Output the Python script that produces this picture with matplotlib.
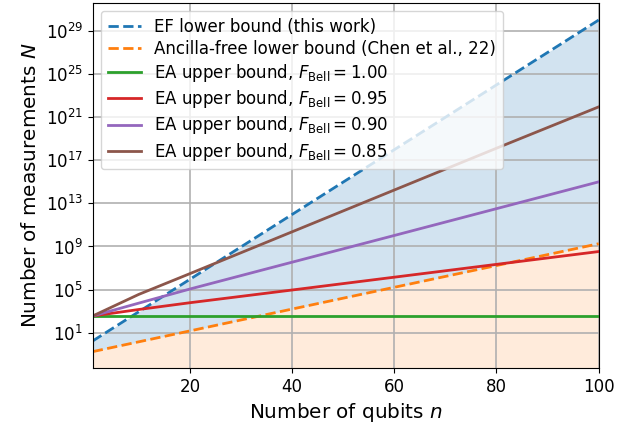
import matplotlib
matplotlib.use("Agg")
import matplotlib.pyplot as plt
from matplotlib.ticker import NullLocator

n_qubits = [1, 10, 20, 40, 60, 80, 100]

# lower bounds
ef_lower = [1.7, 8.7e2, 8.9e5, 9.3e11, 9.6e17, 1.0e24, 1.05e30]
ancilla_free = [0.174, 1.41, 14.5, 1.55e3, 1.62e5, 1.7e7, 1.8e9]

# entanglement-assisted upper bounds for several Bell fidelities
ea_upper = {
    "1.00": [355, 355, 355, 355, 355, 355, 355],
    "0.95": [355, 1.41e3, 6.0e3, 9.1e4, 1.41e6, 2.19e7, 3.39e8],
    "0.90": [355, 5.5e3, 1.12e5, 3.47e7, 1.05e10, 3.24e12, 1.0e15],
    "0.85": [355, 3.55e4, 3.0e6, 2.29e10, 1.74e14, 1.32e18, 9.1e21],
}
ea_colors = ["tab:green", "tab:red", "tab:purple", "tab:brown"]

y_ticks = [1e1, 1e5, 1e9, 1e13, 1e17, 1e21, 1e25, 1e29]
x_ticks = [20, 40, 60, 80, 100]

plt.rcParams["font.size"] = 12

fig = plt.figure(figsize=(6.33, 4.28), dpi=100)
ax = fig.add_axes([0.1465, 0.1402, 0.7993, 0.8535])

y_bottom = 10 ** -2.28
y_top = 10 ** 31.63

# shaded regions
ax.fill_between(n_qubits, ancilla_free, ef_lower, color="tab:blue", alpha=0.2, lw=0)
ax.fill_between(n_qubits, [1e-6] * len(n_qubits), ancilla_free,
                color="tab:orange", alpha=0.15, lw=0)

ax.plot(n_qubits, ef_lower, "--", color="tab:blue", lw=2,
        label="EF lower bound (this work)")
ax.plot(n_qubits, ancilla_free, "--", color="tab:orange", lw=2,
        label="Ancilla-free lower bound (Chen et al., 22)")
for (fid, vals), c in zip(ea_upper.items(), ea_colors):
    ax.plot(n_qubits, vals, "-", color=c, lw=2,
            label=r"EA upper bound, $F_{\mathrm{Bell}} = %s$" % fid)

ax.set_yscale("log")
ax.set_xlim(1, 100)
ax.set_ylim(y_bottom, y_top)
ax.set_yticks(y_ticks)
ax.yaxis.set_minor_locator(NullLocator())
ax.set_xticks(x_ticks)
ax.tick_params(labelsize=12)
ax.grid(True, color="#b0b0b0", lw=1.2)

ax.set_xlabel(r"Number of qubits $n$", fontsize=14.4)
ax.set_ylabel(r"Number of measurements $N$", fontsize=14.4)
ax.legend(loc="upper left", fontsize=12, labelspacing=0.25)

fig.savefig("out.png", dpi=100)
